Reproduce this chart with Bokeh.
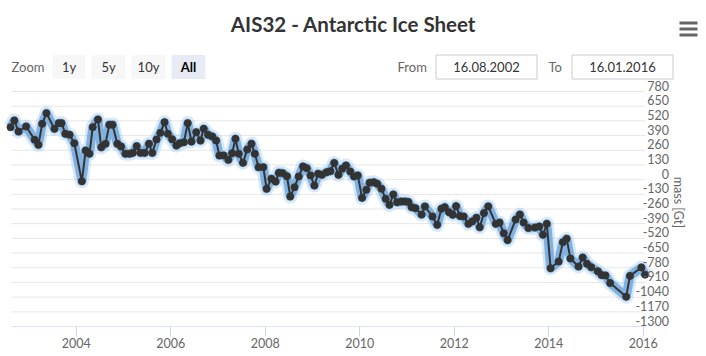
import math
from bokeh.plotting import figure
from bokeh.models import Range1d, FixedTicker
from bokeh.core.properties import value
from bokeh.embed import file_html
from bokeh.resources import INLINE

# ---------------- data ----------------
TITLE = "AIS32 - Antarctic Ice Sheet"
Y_TITLE = "mass [Gt]"
ZOOM_LABEL = "Zoom"
range_buttons = ["1y", "5y", "10y", "All"]
selected_button = "All"
from_label, to_label = "From", "To"
from_date, to_date = "16.08.2002", "16.01.2016"

years = [
    2002.61, 2002.69, 2002.78, 2002.94, 2003.12, 2003.20, 2003.28, 2003.37, 2003.54, 2003.63,
    2003.69, 2003.77, 2003.86, 2003.96, 2004.12, 2004.20, 2004.28, 2004.35, 2004.46, 2004.53,
    2004.62, 2004.70, 2004.77, 2004.87, 2004.95, 2005.04, 2005.13, 2005.20, 2005.28, 2005.36,
    2005.45, 2005.54, 2005.61, 2005.70, 2005.78, 2005.87, 2005.94, 2006.03, 2006.12, 2006.19,
    2006.28, 2006.36, 2006.44, 2006.54, 2006.63, 2006.70, 2006.79, 2006.88, 2006.96, 2007.03,
    2007.12, 2007.22, 2007.30, 2007.37, 2007.44, 2007.53, 2007.62, 2007.71, 2007.78, 2007.86,
    2007.96, 2008.03, 2008.13, 2008.22, 2008.29, 2008.37, 2008.46, 2008.53, 2008.62, 2008.71,
    2008.80, 2008.88, 2008.96, 2009.04, 2009.12, 2009.20, 2009.30, 2009.38, 2009.46, 2009.55,
    2009.63, 2009.71, 2009.80, 2009.88, 2009.96, 2010.05, 2010.14, 2010.21, 2010.30, 2010.37,
    2010.46, 2010.55, 2010.63, 2010.71, 2010.79, 2010.88, 2010.96, 2011.03, 2011.10, 2011.18,
    2011.31, 2011.38, 2011.54, 2011.64, 2011.73, 2011.80, 2011.89, 2011.97, 2012.04, 2012.12,
    2012.20, 2012.30, 2012.38, 2012.47, 2012.54, 2012.63, 2012.72, 2012.88, 2012.96, 2013.05,
    2013.13, 2013.30, 2013.39, 2013.47, 2013.57, 2013.71, 2013.80, 2013.88, 2013.96, 2014.04,
    2014.21, 2014.30, 2014.38, 2014.46, 2014.63, 2014.72, 2014.81, 2014.90, 2015.04, 2015.12,
    2015.20, 2015.30, 2015.64, 2015.72, 2015.96, 2016.04,
]
mass_gt = [
    464, 523, 426, 470, 353, 308, 494, 588, 450, 500,
    500, 406, 397, 322, -14, 258, 229, 464, 532, 287,
    317, 485, 485, 317, 293, 229, 229, 237, 296, 237,
    237, 317, 237, 355, 414, 508, 406, 357, 302, 322,
    331, 500, 337, 420, 346, 450, 397, 382, 346, 214,
    214, 175, 234, 361, 229, 149, 267, 317, 229, 110,
    110, -81, 7, -17, 60, 57, 30, -149, -67, 28,
    116, 101, 37, -52, 52, 43, 66, 75, 147, 43,
    96, 125, 72, 28, 37, -161, -90, -28, -23, -37,
    -81, -170, -223, -132, -200, -194, -194, -198, -244, -253,
    -309, -238, -326, -400, -258, -244, -288, -311, -235, -322,
    -326, -391, -370, -338, -421, -296, -237, -391, -380, -475,
    -535, -354, -309, -380, -428, -424, -415, -488, -391, -784,
    -725, -554, -524, -698, -769, -690, -745, -775, -811, -845,
    -848, -915, -1036, -852, -778, -841,
]

y_ticks = [780, 650, 520, 390, 260, 130, 0, -130, -260, -390, -520, -650,
           -780, -910, -1040, -1170, -1300]
y_tick_labels = [str(v) for v in y_ticks]
x_ticks = [2004, 2006, 2008, 2010, 2012, 2014, 2016]
x_tick_labels = ["2004", "2006", "2008", "2010", "2012", "2014", "2016"]

# extent of the plot area (16.08.2002 .. 16.01.2016)
PLOT_X_START, PLOT_X_END = 2002.62, 2016.04
PLOT_Y_MIN, PLOT_Y_MAX = -1300, 780

# ---------------- layout (pixels) ----------------
W, H = 706, 356
B_BOTTOM = 30
FRAME_H = H - B_BOTTOM                 # frame covers the canvas above the x axis
PLOT_LEFT_PX, PLOT_RIGHT_PX = 10.5, 644.6
PLOT_TOP_PX, PLOT_BOTTOM_PX = 91.0, 326.0

x_per_px = (PLOT_X_END - PLOT_X_START) / (PLOT_RIGHT_PX - PLOT_LEFT_PX)
y_per_px = (PLOT_Y_MAX - PLOT_Y_MIN) / (PLOT_BOTTOM_PX - PLOT_TOP_PX)
x_view = Range1d(PLOT_X_START - PLOT_LEFT_PX * x_per_px,
                 PLOT_X_END + (W - PLOT_RIGHT_PX) * x_per_px)
y_view = Range1d(PLOT_Y_MIN - (PLOT_BOTTOM_PX - FRAME_H) * y_per_px,
                 PLOT_Y_MAX + PLOT_TOP_PX * y_per_px)

FONT = value("Lato")
GRID = "#e6e6e6"
AXIS = "#ccd6eb"
LABEL = "#666666"
DARK = "#333333"

p = figure(width=W, height=H, output_backend="svg", toolbar_location=None,
           x_range=x_view, y_range=y_view,
           x_axis_location="below", y_axis_location=None,
           min_border_left=0, min_border_right=0, min_border_top=0,
           min_border_bottom=B_BOTTOM)
p.outline_line_color = None
p.background_fill_color = "white"
p.border_fill_color = "white"
p.xgrid.visible = False
p.ygrid.visible = False

# pixel-space ranges for the header controls (title, zoom buttons, date inputs)
p.extra_x_ranges = {"px": Range1d(0, W)}
p.extra_y_ranges = {"py": Range1d(FRAME_H, 0)}
PX = dict(x_range_name="px", y_range_name="py")

# x axis (real axis; its line is drawn only across the plot area)
xa = p.xaxis[0]
xa.ticker = FixedTicker(ticks=x_ticks)
xa.major_label_overrides = {t: l for t, l in zip(x_ticks, x_tick_labels)}
xa.axis_line_color = None
xa.major_tick_line_color = AXIS
xa.major_tick_out = 10
xa.major_tick_in = 0
xa.minor_tick_line_color = None
xa.minor_tick_out = 0
xa.major_label_standoff = 1
xa.major_label_text_font = "Lato"
xa.major_label_text_font_size = "12.5px"
xa.major_label_text_color = LABEL

# horizontal grid lines over the plot area
p.segment(x0=[PLOT_X_START] * len(y_ticks), x1=[PLOT_X_END] * len(y_ticks),
          y0=y_ticks, y1=y_ticks, line_color=GRID, line_width=1)
p.segment(x0=[PLOT_X_START], x1=[PLOT_X_END], y0=[PLOT_Y_MIN], y1=[PLOT_Y_MIN],
          line_color=AXIS, line_width=1)

# series: blue glow band + dark line with markers
p.line(years, mass_gt, line_width=14, color="#7cb5ec", alpha=0.3, line_join="round")
p.line(years, mass_gt, line_width=9, color="#6aa3da", alpha=0.8, line_join="round")
p.line(years, mass_gt, line_width=2, color=DARK, line_join="round")
p.scatter(years, mass_gt, size=7, color=DARK)

# y tick labels: right aligned just right of the plot area, above their grid lines
p.text(x=[PLOT_X_END] * len(y_ticks), y=y_ticks, text=y_tick_labels,
       x_offset=24, y_offset=-6, text_align="right", text_baseline="alphabetic",
       text_font=FONT, text_font_size=value("12.5px"), text_color=LABEL)
p.text(x=[PLOT_X_END], y=[(PLOT_Y_MIN + PLOT_Y_MAX) / 2 + 58], text=[Y_TITLE],
       x_offset=33, angle=-math.pi / 2, text_align="center", text_baseline="middle",
       text_font=FONT, text_font_size=value("12.5px"), text_color=LABEL)

# ---------------- header ----------------
p.text(x=[353], y=[23], text=[TITLE], text_align="center", text_baseline="middle",
       text_font=FONT, text_font_style="bold", text_font_size=value("20.5px"),
       text_color=DARK, **PX)

# hamburger menu icon
p.quad(left=[679] * 3, right=[697] * 3, top=[21, 27, 33], bottom=[24, 30, 36],
       fill_color=LABEL, line_color=None, **PX)

# range selector
p.text(x=[11], y=[66.5], text=[ZOOM_LABEL], text_align="left", text_baseline="middle",
       text_font=FONT, text_font_size=value("13px"), text_color=LABEL, **PX)
btn_left = [52, 91, 131, 171]
btn_right = [85, 125, 165, 205]
is_sel = [b == selected_button for b in range_buttons]
p.quad(left=btn_left, right=btn_right, top=[54.5] * 4, bottom=[78.5] * 4,
       fill_color=["#e6ebf5" if s else "#f7f7f7" for s in is_sel], line_color=None, **PX)
for b, l, r, s in zip(range_buttons, btn_left, btn_right, is_sel):
    p.text(x=[(l + r) / 2], y=[66.5], text=[b], text_align="center", text_baseline="middle",
           text_font=FONT, text_font_size=value("13px"),
           text_font_style="bold" if s else "normal",
           text_color="#000000" if s else DARK, **PX)

# date inputs
p.text(x=[397, 548], y=[66.5, 66.5], text=[from_label, to_label], text_align="left",
       text_baseline="middle", text_font=FONT, text_font_size=value("13px"),
       text_color=LABEL, **PX)
p.quad(left=[435.5, 571.5], right=[536.5, 672.5], top=[54.5, 54.5], bottom=[78.5, 78.5],
       fill_color="#ffffff", line_color="#cccccc", line_width=1, **PX)
p.text(x=[486, 622], y=[66.5, 66.5], text=[from_date, to_date], text_align="center",
       text_baseline="middle", text_font=FONT, text_font_size=value("13px"),
       text_color=DARK, **PX)

open("out.html", "w").write(file_html(p, INLINE))
